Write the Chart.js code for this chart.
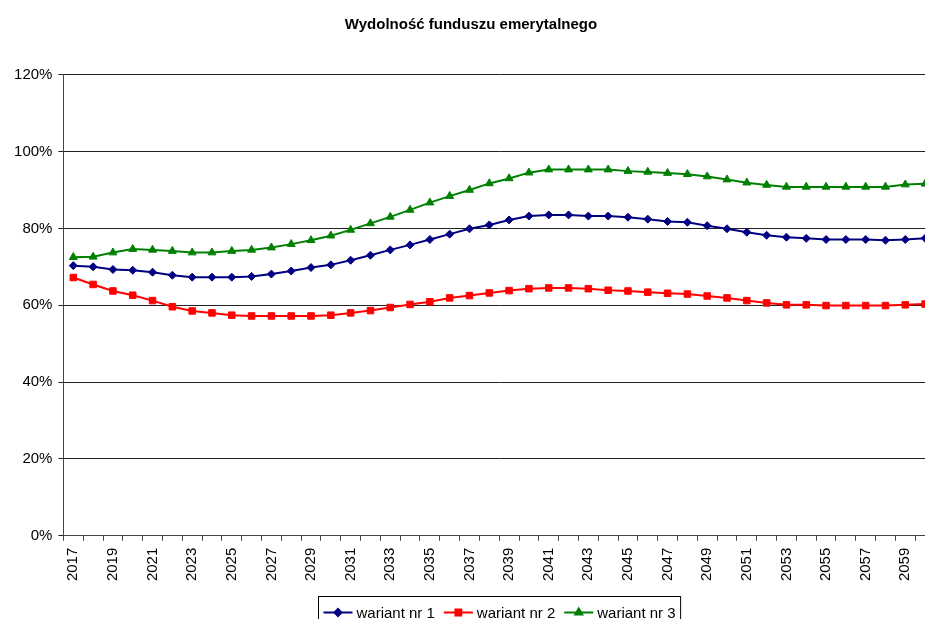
<!DOCTYPE html>
<html>
<head>
<meta charset="utf-8">
<script src="https://cdn.jsdelivr.net/npm/chart.js@4.4.1/dist/chart.umd.min.js"></script>
<style>
html,body{margin:0;padding:0;overflow:hidden;background:#fff;}
#wrap{position:relative;width:942px;height:630px;}
canvas{display:block;}
</style>
</head>
<body>
<div id="wrap"><canvas id="c" width="942" height="630" style="width:942px;height:630px"></canvas></div>
<script>
const titleText = 'Wydolność funduszu emerytalnego';
const years = [];
for (let y = 2017; y <= 2060; y++) years.push(String(y));
const seriesNames = ['wariant nr 1', 'wariant nr 2', 'wariant nr 3'];
const wariant1 = [70.3, 70.0, 69.3, 69.1, 68.6, 67.8, 67.3, 67.3, 67.3, 67.5, 68.1, 68.9, 69.8, 70.5, 71.7,
  73.0, 74.4, 75.7, 77.1, 78.5, 79.9, 80.9, 82.2, 83.2, 83.5, 83.5, 83.2, 83.2, 82.9,
  82.4, 81.8, 81.6, 80.7, 79.9, 79.0, 78.2, 77.7, 77.4, 77.1, 77.1, 77.1, 76.9, 77.1, 77.4];
const wariant2 = [67.2, 65.4, 63.7, 62.6, 61.2, 59.6, 58.5, 58.0, 57.4, 57.2, 57.2, 57.2, 57.2, 57.4, 58.0,
  58.6, 59.4, 60.2, 60.9, 61.9, 62.5, 63.2, 63.8, 64.3, 64.5, 64.5, 64.3, 63.9, 63.7,
  63.4, 63.1, 62.9, 62.4, 61.9, 61.2, 60.6, 60.1, 60.1, 59.9, 59.9, 59.9, 59.9, 60.1, 60.3];
const wariant3 = [72.5, 72.6, 73.7, 74.6, 74.4, 74.1, 73.7, 73.7, 74.1, 74.4, 75.0, 75.9, 76.9, 78.1, 79.6,
  81.3, 83.0, 84.8, 86.7, 88.4, 90.0, 91.7, 93.0, 94.5, 95.3, 95.3, 95.3, 95.3, 94.9,
  94.7, 94.4, 94.1, 93.5, 92.7, 91.9, 91.3, 90.8, 90.8, 90.8, 90.8, 90.8, 90.8, 91.4, 91.6];
const yTicks = [0, 20, 40, 60, 80, 100, 120];

const FONT = "'Liberation Sans', Arial, sans-serif";
Chart.defaults.font.family = FONT;
Chart.defaults.color = '#000';

const styles = [
  {color: '#000080', point: 'rectRot', r: 4},
  {color: '#FF0000', point: 'rect', r: 4.6},
  {color: '#008000', point: 'triangle', r: 4.6}
];
const allData = [wariant1, wariant2, wariant3];

const legendPlugin = {
  id: 'boxLegend',
  afterDraw(chart) {
    const ctx = chart.ctx;
    const ca = chart.chartArea;
    ctx.save();
    ctx.font = '15px ' + FONT;
    const lineLen = 29, gapTxt = 4, gapItem = 9, padL = 5, padR = 5;
    const widths = seriesNames.map(n => ctx.measureText(n).width);
    let total = padL + padR;
    widths.forEach((w, i) => { total += lineLen + gapTxt + w + (i < widths.length - 1 ? gapItem : 0); });
    const cx = (ca.left + ca.right) / 2;
    const left = Math.round(cx - total / 2) + 0.5;
    const top = Math.round(ca.bottom + 60) + 0.5;
    const h = 32;
    ctx.strokeStyle = '#000';
    ctx.lineWidth = 1;
    ctx.strokeRect(left, top, total, h);
    let x = left + padL;
    const ym = top + 16;
    seriesNames.forEach((n, i) => {
      const st = styles[i];
      ctx.strokeStyle = st.color;
      ctx.lineWidth = 2;
      ctx.beginPath();
      ctx.moveTo(x, ym);
      ctx.lineTo(x + lineLen, ym);
      ctx.stroke();
      ctx.fillStyle = st.color;
      Chart.helpers.drawPoint(ctx, {pointStyle: st.point, radius: st.r - 0.5, borderWidth: 1, rotation: 0}, x + lineLen / 2, ym);
      ctx.fill();
      x += lineLen + gapTxt;
      ctx.fillStyle = '#000';
      ctx.textBaseline = 'middle';
      ctx.textAlign = 'left';
      ctx.fillText(n, x, ym + 1);
      x += widths[i] + gapItem;
    });
    ctx.restore();
  }
};

new Chart(document.getElementById('c'), {
  type: 'line',
  data: {
    labels: years,
    datasets: allData.map((d, i) => ({
      label: seriesNames[i],
      data: d,
      borderColor: styles[i].color,
      backgroundColor: styles[i].color,
      borderWidth: 2,
      pointStyle: styles[i].point,
      pointRadius: styles[i].r,
      pointBorderWidth: 1,
      pointHoverRadius: styles[i].r,
      tension: 0,
      fill: false
    }))
  },
  options: {
    responsive: false,
    maintainAspectRatio: false,
    devicePixelRatio: 1,
    animation: false,
    layout: {padding: {top: 0, left: 0, right: 0, bottom: 0}},
    plugins: {
      legend: {display: false},
      tooltip: {enabled: false},
      title: {
        display: true,
        text: titleText,
        font: {family: FONT, size: 15, weight: 'bold'},
        color: '#000',
        padding: {top: 16, bottom: 40.7}
      }
    },
    scales: {
      x: {
        type: 'category',
        offset: true,
        grid: {display: true, drawOnChartArea: false, drawTicks: true, tickLength: 5, color: '#444', offset: true},
        border: {display: true, color: '#444', width: 1},
        ticks: {
          autoSkip: false,
          maxRotation: 90,
          minRotation: 90,
          padding: 7,
          font: {size: 15, family: FONT},
          color: '#000',
          callback: function(v, i) { return i % 2 === 0 ? this.getLabelForValue(v) : ''; }
        },
        afterFit(scale) { scale.height = 94.3; scale.paddingLeft = 0; scale.paddingRight = 7; }
      },
      y: {
        min: 0,
        max: 120,
        afterBuildTicks(scale) { scale.ticks = yTicks.map(v => ({value: v})); },
        grid: {color: '#222', lineWidth: 1, drawTicks: true, tickLength: 5},
        border: {display: true, color: '#444', width: 1},
        ticks: {
          padding: 6,
          font: {size: 15, family: FONT},
          color: '#000',
          callback: v => v + '%'
        },
        afterFit(scale) { scale.width = 63.4; }
      }
    }
  },
  plugins: [legendPlugin]
});
</script>
</body>
</html>
